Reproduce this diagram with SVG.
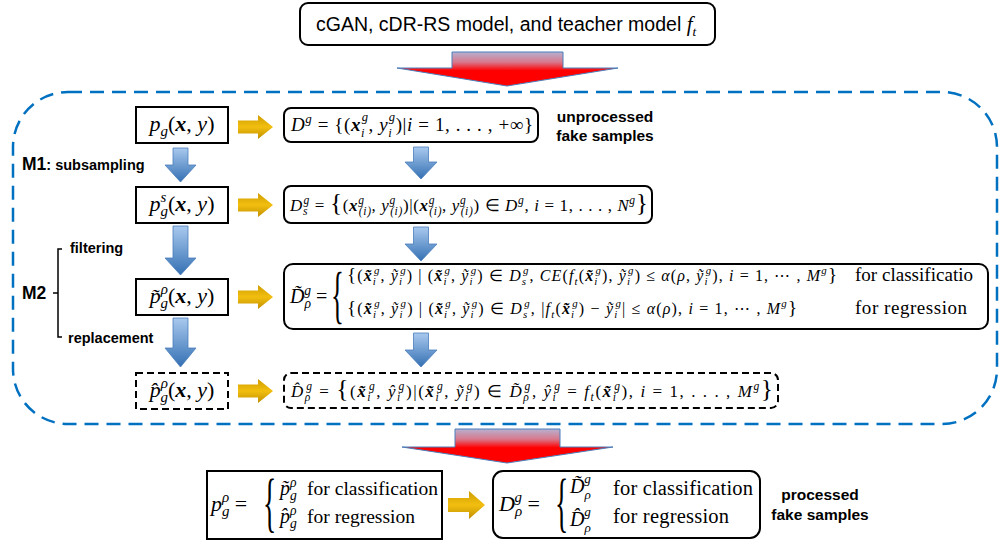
<svg xmlns="http://www.w3.org/2000/svg" width="1000" height="546" viewBox="0 0 1000 546">
<defs>
<linearGradient id="gRed" x1="0" y1="0" x2="0" y2="1">
<stop offset="0" stop-color="#b7b1d0"/>
<stop offset="0.3" stop-color="#d8788c"/>
<stop offset="0.55" stop-color="#ff0000"/>
<stop offset="1" stop-color="#ff0000"/>
</linearGradient>
<linearGradient id="gBlue" x1="0" y1="0" x2="0" y2="1">
<stop offset="0" stop-color="#a9c9ee"/>
<stop offset="1" stop-color="#3470b3"/>
</linearGradient>
<linearGradient id="gGold" x1="0" y1="0" x2="0" y2="1">
<stop offset="0" stop-color="#cf9d00"/>
<stop offset="0.5" stop-color="#f2bf10"/>
<stop offset="1" stop-color="#c18f00"/>
</linearGradient>
</defs>
<style>
.m{font-family:"Liberation Serif","Times New Roman",serif;fill:#000}
.it{font-style:italic}
.bi{font-style:italic;font-weight:bold}
.sb{font-size:0.68em;baseline-shift:-0.35em;font-style:italic;font-weight:normal}
.sp{font-size:0.68em;baseline-shift:0.62em;font-style:italic;font-weight:normal}
.sb2{font-size:0.66em;baseline-shift:-0.45em;font-style:italic;font-weight:normal}
.sp2{font-size:0.66em;baseline-shift:0.78em;font-style:italic;font-weight:normal}
.br{font-size:1.5em;font-style:normal}
.lbl{font-family:"Liberation Sans",Arial,sans-serif;font-weight:bold;fill:#000}
.box{fill:#fff;stroke:#000;stroke-width:2}
.dbox{fill:#fff;stroke:#000;stroke-width:2;stroke-dasharray:7 4}
.blue{fill:url(#gBlue);stroke:#4a7ebb;stroke-width:0.8}
.gold{fill:url(#gGold)}
.red{fill:url(#gRed);stroke:#4a7ebb;stroke-width:1}
</style>

<rect x="13" y="92" width="984" height="332" rx="55" fill="none" stroke="#0070c0" stroke-width="2.5" stroke-dasharray="14 8"/>

<g id="top">
<rect x="300" y="3" width="415" height="42" rx="8" class="box" stroke-width="1.5"/>
<text x="316" y="31" font-family="Liberation Sans, Arial, sans-serif" font-size="19.5">cGAN, cDR-RS model, and teacher model <tspan class="m it" font-size="21">f</tspan><tspan class="m sb" font-size="21">t</tspan></text>
</g>

<g id="connectors">
<path class="red" d="M452,52 H563 V68 H618 L507,86 L397,68 H452 Z"/>
<path class="red" d="M455,429 H560 V447 H613 L507,463 L402,447 H455 Z"/>
<path class="blue" d="M173,148 H188 V165 H196 L180.5,182 L165,165 H173 Z"/>
<path class="blue" d="M173,226 H188 V258 H196 L180.5,275 L165,258 H173 Z"/>
<path class="blue" d="M173,318 H188 V348 H196 L180.5,367 L165,348 H173 Z"/>
<path class="blue" d="M413.5,147 H428.5 V162 H437 L421,179 L405,162 H413.5 Z"/>
<path class="blue" d="M413.5,227 H428.5 V244 H437 L421,261 L405,244 H413.5 Z"/>
<path class="blue" d="M413.5,333 H428.5 V350 H437 L421,367 L405,350 H413.5 Z"/>
<path class="gold" d="M238,120.5 H258 V115 L273,127 L258,139 V133.5 H238 Z"/>
<path class="gold" d="M238,198.5 H258 V193 L273,205 L258,217 V211.5 H238 Z"/>
<path class="gold" d="M238,290.5 H258 V285 L273,297 L258,309 V303.5 H238 Z"/>
<path class="gold" d="M238,384.5 H258 V379 L273,391 L258,403 V397.5 H238 Z"/>
<path class="gold" d="M448,498 H469 V491 L485,505 L469,519 V512 H448 Z"/>
</g>

<g id="labels">
<text class="lbl" x="22" y="170" font-size="14.5"><tspan font-size="17.5">M1</tspan>: subsampling</text>
<text class="lbl" x="70" y="253" font-size="14.5">filtering</text>
<text class="lbl" x="22" y="299" font-size="17.5">M2</text>
<text class="lbl" x="68" y="343" font-size="14.5">replacement</text>
<path d="M62,249 H58 V337 H62 M58,293 H53" fill="none" stroke="#000" stroke-width="1.5"/>
<text class="lbl" x="605" y="122" text-anchor="middle" font-size="15.5">unprocessed</text>
<text class="lbl" x="605" y="141" text-anchor="middle" font-size="15.5">fake samples</text>
<text class="lbl" x="820" y="500" text-anchor="middle" font-size="15.5">processed</text>
<text class="lbl" x="820" y="520" text-anchor="middle" font-size="15.5">fake samples</text>
</g>

<g id="pg">
<rect x="136" y="107" width="92" height="36" class="box"/>
<text class="m" x="182" y="131" text-anchor="middle" font-size="22"><tspan class="it">p</tspan><tspan class="sb">g</tspan>(<tspan class="bi">x</tspan>, <tspan class="it">y</tspan>)</text>
</g>
<g id="pgs">
<rect x="136" y="187" width="92" height="36" class="box"/>
<text class="m" x="182" y="211" text-anchor="middle" font-size="22"><tspan class="it">p</tspan><tspan class="sp">s</tspan><tspan class="sb" dx="-5.8">g</tspan>(<tspan class="bi">x</tspan>, <tspan class="it">y</tspan>)</text>
</g>
<g id="pgtilde">
<rect x="136" y="279" width="92" height="36" class="box"/>
<text class="m" x="182" y="303" text-anchor="middle" font-size="22"><tspan class="it">p̃</tspan><tspan class="sp">ρ</tspan><tspan class="sb" dx="-7.5">g</tspan>(<tspan class="bi">x</tspan>, <tspan class="it">y</tspan>)</text>
</g>
<g id="pghat">
<rect x="136" y="373" width="92" height="36" class="dbox"/>
<text class="m" x="182" y="397" text-anchor="middle" font-size="22"><tspan class="it">p̂</tspan><tspan class="sp">ρ</tspan><tspan class="sb" dx="-7.5">g</tspan>(<tspan class="bi">x</tspan>, <tspan class="it">y</tspan>)</text>
</g>

<g id="Dg">
<rect x="284" y="108" width="254" height="34" rx="7" class="box"/>
<text class="m" x="291" y="131" font-size="19" textLength="242"><tspan class="it">D</tspan><tspan class="sp">g</tspan> = {(<tspan class="bi">x</tspan><tspan class="sb2">i</tspan><tspan class="sp2" dx="-3.5">g</tspan>, <tspan class="it">y</tspan><tspan class="sb2">i</tspan><tspan class="sp2" dx="-3.5">g</tspan>)|<tspan class="it">i</tspan> = 1, . . . , +∞}</text>
</g>

<g id="Dgs">
<rect x="284" y="186" width="368" height="37" rx="7" class="box"/>
<text class="m" x="290" y="211" font-size="17" textLength="358" fill="#222"><tspan class="it">D</tspan><tspan class="sb">s</tspan><tspan class="sp" dx="-4.5">g</tspan> = <tspan class="br">{</tspan>(<tspan class="bi">x</tspan><tspan class="sp">g</tspan><tspan class="sb" dx="-5.8">(i)</tspan>, <tspan class="it">y</tspan><tspan class="sp">g</tspan><tspan class="sb" dx="-5.8">(i)</tspan>)|(<tspan class="bi">x</tspan><tspan class="sp">g</tspan><tspan class="sb" dx="-5.8">(i)</tspan>, <tspan class="it">y</tspan><tspan class="sp">g</tspan><tspan class="sb" dx="-5.8">(i)</tspan>) ∈ <tspan class="it">D</tspan><tspan class="sp">g</tspan>, <tspan class="it">i</tspan> = 1, . . . , <tspan class="it">N</tspan><tspan class="sp">g</tspan><tspan class="br">}</tspan></text>
</g>

<g id="Drho-tilde">
<rect x="284" y="264" width="704" height="65" rx="9" class="box"/>
<text class="m" x="290" y="303" font-size="20"><tspan class="it">D̃</tspan><tspan class="sb">ρ</tspan><tspan class="sp" dx="-6.8">g</tspan> =</text>
<text class="m" font-size="64" transform="translate(331,316) scale(0.42,1)">{</text>
<text class="m" x="347" y="281" font-size="16" textLength="490"><tspan font-size="19">{</tspan>(<tspan class="bi">x̃</tspan><tspan class="sb">i</tspan><tspan class="sp" dx="-3">g</tspan>, <tspan class="it">ỹ</tspan><tspan class="sb">i</tspan><tspan class="sp" dx="-3">g</tspan>) | (<tspan class="bi">x̃</tspan><tspan class="sb">i</tspan><tspan class="sp" dx="-3">g</tspan>, <tspan class="it">ỹ</tspan><tspan class="sb">i</tspan><tspan class="sp" dx="-3">g</tspan>) ∈ <tspan class="it">D</tspan><tspan class="sb">s</tspan><tspan class="sp" dx="-4.2">g</tspan>, <tspan class="it">CE</tspan>(<tspan class="it">f</tspan><tspan class="sb">t</tspan>(<tspan class="bi">x̃</tspan><tspan class="sb">i</tspan><tspan class="sp" dx="-3">g</tspan>), <tspan class="it">ỹ</tspan><tspan class="sb">i</tspan><tspan class="sp" dx="-3">g</tspan>) ≤ <tspan class="it">α</tspan>(<tspan class="it">ρ</tspan>, <tspan class="it">ỹ</tspan><tspan class="sb">i</tspan><tspan class="sp" dx="-3">g</tspan>), <tspan class="it">i</tspan> = 1, ⋯ , <tspan class="it">M</tspan><tspan class="sp">g</tspan><tspan font-size="19">}</tspan></text>
<text class="m" x="347" y="314" font-size="16" textLength="450"><tspan font-size="19">{</tspan>(<tspan class="bi">x̃</tspan><tspan class="sb">i</tspan><tspan class="sp" dx="-3">g</tspan>, <tspan class="it">ỹ</tspan><tspan class="sb">i</tspan><tspan class="sp" dx="-3">g</tspan>) | (<tspan class="bi">x̃</tspan><tspan class="sb">i</tspan><tspan class="sp" dx="-3">g</tspan>, <tspan class="it">ỹ</tspan><tspan class="sb">i</tspan><tspan class="sp" dx="-3">g</tspan>) ∈ <tspan class="it">D</tspan><tspan class="sb">s</tspan><tspan class="sp" dx="-4.2">g</tspan>, |<tspan class="it">f</tspan><tspan class="sb">t</tspan>(<tspan class="bi">x̃</tspan><tspan class="sb">i</tspan><tspan class="sp" dx="-3">g</tspan>) − <tspan class="it">ỹ</tspan><tspan class="sb">i</tspan><tspan class="sp" dx="-3">g</tspan>| ≤ <tspan class="it">α</tspan>(<tspan class="it">ρ</tspan>), <tspan class="it">i</tspan> = 1, ⋯ , <tspan class="it">M</tspan><tspan class="sp">g</tspan><tspan font-size="19">}</tspan></text>
<text class="m" x="855" y="281" font-size="19" textLength="118">for classificatio</text>
<text class="m" x="855" y="314" font-size="19" textLength="112">for regression</text>
</g>

<g id="Drho-hat">
<rect x="284" y="373" width="494" height="35" rx="7" class="dbox"/>
<text class="m" x="291" y="397" font-size="17" textLength="482"><tspan class="it">D̂</tspan><tspan class="sb">ρ</tspan><tspan class="sp" dx="-5.8">g</tspan> = <tspan class="br">{</tspan>(<tspan class="bi">x̃</tspan><tspan class="sb">i</tspan><tspan class="sp" dx="-3.2">g</tspan>, <tspan class="it">ŷ</tspan><tspan class="sb">i</tspan><tspan class="sp" dx="-3.2">g</tspan>)|(<tspan class="bi">x̃</tspan><tspan class="sb">i</tspan><tspan class="sp" dx="-3.2">g</tspan>, <tspan class="it">ỹ</tspan><tspan class="sb">i</tspan><tspan class="sp" dx="-3.2">g</tspan>) ∈ <tspan class="it">D̃</tspan><tspan class="sb">ρ</tspan><tspan class="sp" dx="-5.8">g</tspan>, <tspan class="it">ŷ</tspan><tspan class="sb">i</tspan><tspan class="sp" dx="-3.2">g</tspan> = <tspan class="it">f</tspan><tspan class="sb">t</tspan>(<tspan class="bi">x̃</tspan><tspan class="sb">i</tspan><tspan class="sp" dx="-3.2">g</tspan>), <tspan class="it">i</tspan> = 1, . . . , <tspan class="it">M</tspan><tspan class="sp">g</tspan><tspan class="br">}</tspan></text>
</g>

<g id="pgrho">
<rect x="207" y="471" width="235" height="68" class="box"/>
<text class="m" x="211" y="511" font-size="22"><tspan class="it">p</tspan><tspan class="sb">g</tspan><tspan class="sp" dx="-7.5">ρ</tspan> =</text>
<text class="m" font-size="66" transform="translate(263,524) scale(0.42,1)">{</text>
<text class="m" x="280" y="495" font-size="20"><tspan class="it">p̃</tspan><tspan class="sb">g</tspan><tspan class="sp" dx="-6.8">ρ</tspan></text>
<text class="m" x="307" y="495" font-size="19.5" textLength="131">for classification</text>
<text class="m" x="280" y="523" font-size="20"><tspan class="it">p̂</tspan><tspan class="sb">g</tspan><tspan class="sp" dx="-6.8">ρ</tspan></text>
<text class="m" x="307" y="523" font-size="19.5" textLength="108">for regression</text>
</g>

<g id="Drho">
<rect x="493" y="471" width="267" height="67" rx="10" class="box"/>
<text class="m" x="499" y="511" font-size="22"><tspan class="it">D</tspan><tspan class="sb">ρ</tspan><tspan class="sp" dx="-7.5">g</tspan> =</text>
<text class="m" font-size="66" transform="translate(555,524) scale(0.42,1)">{</text>
<text class="m" x="570" y="493" font-size="20"><tspan class="it">D̃</tspan><tspan class="sb2">ρ</tspan><tspan class="sp2" dx="-6.6">g</tspan></text>
<text class="m" x="613" y="495" font-size="20.5" textLength="140">for classification</text>
<text class="m" x="570" y="526" font-size="20"><tspan class="it">D̂</tspan><tspan class="sb2">ρ</tspan><tspan class="sp2" dx="-6.6">g</tspan></text>
<text class="m" x="613" y="523" font-size="20.5" textLength="116">for regression</text>
</g>
</svg>
